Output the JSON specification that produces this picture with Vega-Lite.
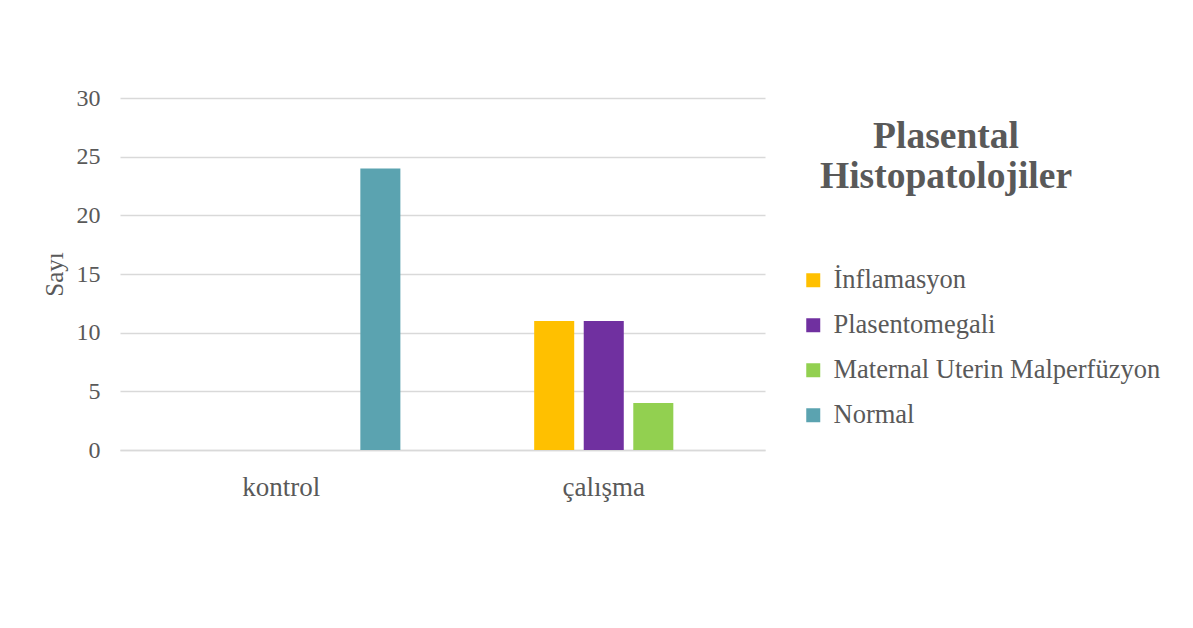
{
  "$schema": "https://vega.github.io/schema/vega-lite/v6.json",
  "width": 645,
  "height": 352,
  "autosize": {"type": "none"},
  "padding": {"left": 120, "top": 98, "right": 428, "bottom": 178},
  "background": "white",
  "title": {
    "text": ["Plasental", "Histopatolojiler"],
    "anchor": "start",
    "align": "center",
    "dx": 904,
    "dy": 113,
    "font": "Liberation Serif",
    "fontSize": 37.5,
    "fontWeight": "bold",
    "color": "#595959",
    "lineHeight": 40
  },
  "data": {
    "values": [
      {"grup": "kontrol", "kategori": "İnflamasyon", "sayi": 0},
      {"grup": "kontrol", "kategori": "Plasentomegali", "sayi": 0},
      {"grup": "kontrol", "kategori": "Maternal Uterin Malperfüzyon", "sayi": 0},
      {"grup": "kontrol", "kategori": "Normal", "sayi": 24},
      {"grup": "çalışma", "kategori": "İnflamasyon", "sayi": 11},
      {"grup": "çalışma", "kategori": "Plasentomegali", "sayi": 11},
      {"grup": "çalışma", "kategori": "Maternal Uterin Malperfüzyon", "sayi": 4},
      {"grup": "çalışma", "kategori": "Normal", "sayi": 0}
    ]
  },
  "mark": {"type": "bar"},
  "encoding": {
    "x": {
      "field": "grup",
      "type": "nominal",
      "scale": {"domain": ["kontrol", "çalışma"], "paddingInner": 0, "paddingOuter": 0},
      "axis": {
        "title": null,
        "labelAngle": 0,
        "labelFont": "Liberation Serif",
        "labelFontSize": 27,
        "labelColor": "#595959",
        "labelPadding": 24,
        "ticks": false,
        "tickSize": 0,
        "domainColor": "#D9D9D9",
        "domainWidth": 1.5,
        "grid": false
      }
    },
    "xOffset": {
      "field": "kategori",
      "type": "nominal",
      "scale": {
        "domain": [" ", "İnflamasyon", "Plasentomegali", "Maternal Uterin Malperfüzyon", "Normal"],
        "paddingInner": 0.192,
        "paddingOuter": 0.85
      }
    },
    "y": {
      "field": "sayi",
      "type": "quantitative",
      "scale": {"domain": [0, 30], "nice": false},
      "axis": {
        "title": "Sayı",
        "titleFont": "Liberation Serif",
        "titleFontSize": 25,
        "titleFontWeight": "normal",
        "titleColor": "#595959",
        "titlePadding": 9,
        "values": [0, 5, 10, 15, 20, 25, 30],
        "labelFont": "Liberation Serif",
        "labelFontSize": 24,
        "labelColor": "#595959",
        "labelPadding": 20,
        "ticks": false,
        "tickSize": 0,
        "domain": false,
        "grid": true,
        "gridColor": "#D9D9D9",
        "gridWidth": 1.5
      }
    },
    "color": {
      "field": "kategori",
      "type": "nominal",
      "scale": {
        "domain": ["İnflamasyon", "Plasentomegali", "Maternal Uterin Malperfüzyon", "Normal"],
        "range": ["#FFC000", "#7030A0", "#92D050", "#5BA3B0"]
      },
      "legend": {
        "title": null,
        "orient": "none",
        "legendX": 680,
        "legendY": 169,
        "padding": 0,
        "symbolType": "square",
        "symbolSize": 196,
        "symbolStrokeWidth": 0,
        "labelFont": "Liberation Serif",
        "labelFontSize": 26.5,
        "labelColor": "#595959",
        "labelOffset": 7,
        "labelLimit": 500,
        "rowPadding": 18
      }
    }
  },
  "config": {
    "view": {"stroke": null}
  }
}
